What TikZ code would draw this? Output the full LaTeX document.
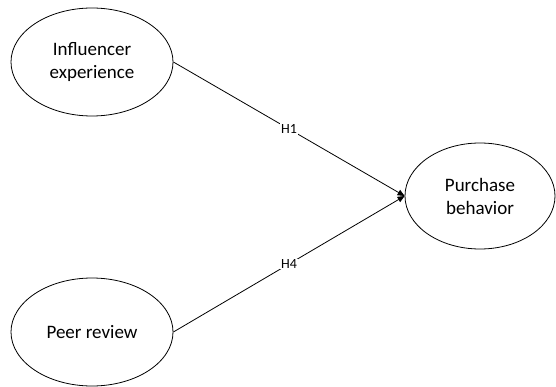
\documentclass[tikz,border=0pt]{standalone}
\usepackage{fontspec}
\setmainfont{Carlito}
\usetikzlibrary{shapes.geometric,arrows.meta}
\begin{document}
\begin{tikzpicture}[x=1pt,y=-1pt,
  construct/.style={draw,ellipse,line width=0.8pt,minimum width=162pt,minimum height=108pt,inner sep=0pt,align=center,font=\fontsize{19}{23}\selectfont},
  hyp/.style={draw,line width=0.8pt,-{Triangle[length=7pt,width=6pt]}},
  hlabel/.style={fill=white,inner sep=1pt,font=\fontsize{14}{16}\selectfont}]
\useasboundingbox (0,0) rectangle (556,387);
\node[construct] (ie) at (92,62) {Influencer\\experience};
\node[construct] (pr) at (92,332) {Peer review};
\node[construct,minimum width=150pt,minimum height=106pt] (pb) at (480,196) {Purchase\\behavior};
\draw[hyp] (ie.east) -- node[hlabel,pos=0.5] {H1} (pb.west);
\draw[hyp] (pr.east) -- node[hlabel,pos=0.5] {H4} (pb.west);
\end{tikzpicture}
\end{document}
